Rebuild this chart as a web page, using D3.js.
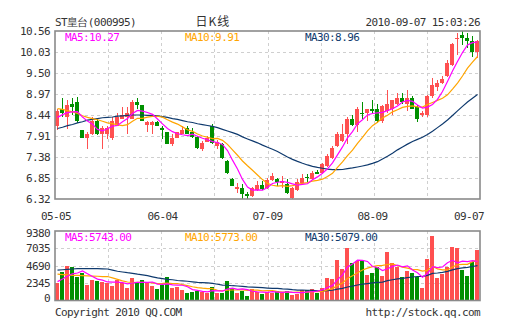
<!DOCTYPE html>
<html><head><meta charset="utf-8">
<script src="https://cdn.jsdelivr.net/npm/d3@7/dist/d3.min.js"></script>
<style>
body{margin:0;background:#fff}
svg text{font-family:"DejaVu Sans Mono",monospace;font-size:11px;letter-spacing:-0.6px;fill:#333}
</style></head>
<body><svg id="c" width="505" height="330"></svg>
<script>
// ---- data ----
const stockName = "ST皇台(000995)";
const chartTitle = "日K线";
const stamp = "2010-09-07 15:03:26";
const dateLabels = ["05-05","06-04","07-09","08-09","09-07"];
const dateIndex = [0,21,42,63,84];
const priceTicks = [6.32,6.85,7.38,7.91,8.44,8.97,9.50,10.03,10.56];
const volTicks = [0,2345,4690,7035,9380];
const priceLegend = ["MA5:10.27","MA10:9.91","MA30:8.96"];
const volLegend = ["MA5:5743.00","MA10:5773.00","MA30:5079.00"];

const open  = [8.17,8.58,8.38,8.71,8.76,8.05,7.87,7.97,8.28,7.95,7.95,7.87,8.17,8.35,8.40,8.35,8.76,8.68,8.20,8.20,8.27,8.10,8.00,7.72,7.87,7.97,8.10,8.02,7.89,7.59,7.77,8.17,7.67,7.72,7.29,6.83,6.58,6.60,6.45,6.40,6.55,6.68,6.60,6.80,6.83,6.73,6.70,6.35,6.55,6.73,6.88,6.83,7.01,6.98,7.16,7.36,7.67,7.79,7.97,8.33,8.20,8.50,8.48,8.58,8.60,8.28,8.53,8.60,8.73,8.88,8.73,8.86,8.63,8.43,8.43,8.91,9.14,9.24,9.42,9.70,10.36,10.46,10.38,10.31,10.03];
const high  = [8.60,8.88,8.81,8.88,8.89,8.06,8.02,8.38,8.33,8.15,8.17,8.38,8.48,8.63,8.63,8.83,8.86,8.70,8.29,8.29,8.29,8.17,8.02,7.97,8.02,8.15,8.15,8.12,7.92,7.79,7.92,8.22,7.82,7.74,7.31,6.86,6.73,6.70,6.50,6.62,6.78,6.77,6.84,6.98,6.86,6.90,6.83,6.62,6.83,6.95,6.95,7.02,7.06,7.24,7.46,7.66,8.00,8.22,8.38,8.45,8.65,8.76,8.60,8.81,8.73,8.68,9.06,8.83,8.99,8.99,9.06,8.93,8.68,8.55,8.95,9.37,9.32,9.42,9.82,10.26,10.51,10.56,10.51,10.43,10.33];
const low   = [8.05,8.40,8.08,8.45,8.25,7.86,7.59,7.94,7.94,7.59,7.84,7.80,8.15,8.33,7.97,8.33,8.60,8.28,8.00,7.97,8.15,7.84,7.70,7.67,7.85,7.95,7.95,7.87,7.59,7.52,7.75,7.72,7.59,7.34,6.96,6.64,6.47,6.30,6.32,6.38,6.53,6.55,6.58,6.78,6.65,6.60,6.45,6.33,6.53,6.70,6.75,6.80,6.94,6.96,7.14,7.34,7.64,7.77,7.72,8.17,8.02,8.33,8.30,8.48,8.25,8.25,8.50,8.43,8.70,8.71,8.53,8.58,8.27,8.38,8.40,8.88,9.04,9.22,9.40,9.68,9.95,10.20,10.13,9.90,9.87];
const close = [8.55,8.48,8.68,8.63,8.28,7.87,7.97,8.30,7.97,8.10,8.12,8.30,8.38,8.45,8.50,8.76,8.68,8.30,8.27,8.27,8.17,8.07,7.72,7.87,8.00,8.05,7.97,7.89,7.61,7.74,7.87,7.74,7.77,7.36,6.98,6.65,6.63,6.45,6.40,6.60,6.68,6.58,6.80,6.90,6.75,6.78,6.47,6.60,6.75,6.85,6.85,6.98,6.96,7.21,7.41,7.61,7.97,7.97,8.35,8.20,8.60,8.48,8.58,8.53,8.28,8.66,8.71,8.81,8.88,8.78,8.86,8.60,8.35,8.48,8.91,9.19,9.24,9.34,9.75,10.23,10.38,10.38,10.31,10.03,10.31];
const volume = [2330,3890,4650,4470,3220,3670,2100,2770,2680,2550,2410,1970,2770,2410,1660,3000,2330,2770,2410,1970,1570,2100,3130,1740,1880,1430,1070,1210,1300,1210,1070,1880,1070,1070,2640,1660,1070,1340,630,1530,1210,900,1210,1070,1300,990,1300,760,900,1430,1430,1530,1070,1660,3080,2860,5450,4200,7100,5090,5360,5360,3440,3670,4470,3310,6570,5010,4560,3220,4020,3750,3130,1660,5590,8670,3080,3580,4560,7240,7020,4110,3310,5230,6790];

// moving-average values for days whose window starts before the chart
const ma5Lead  = [8.38,8.45,8.50,8.52];
const ma10Lead = [8.60,8.58,8.55,8.52,8.48,8.42,8.38,8.35,8.32];
const ma30Lead = [8.10,8.13,8.17,8.20,8.24,8.27,8.31,8.33,8.35,8.37,8.38,8.39,8.41,8.42,8.43,8.44,8.44,8.44,8.43,8.43,8.42,8.40,8.38,8.35,8.33,8.30,8.27,8.25,8.22];
const vma5Lead  = [2550,2900,3300,3600];
const vma10Lead = [3550,3500,3450,3400,3380,3350,3320,3300,3270];
const vma30Lead = [4100,4150,4200,4250,4300,4300,4300,4300,4300,4280,4250,4100,3950,3850,3750,3670,3550,3450,3350,3200,3050,2950,2850,2800,2700,2650,2600,2520,2450];

// ---- layout ----
const FX0=55, FX1=480, PY0=31, PY1=199, VY0=231, VY1=300.5;
const RED="#ff5050", GREEN="#009000", C5="#ff00ff", C10="#ffa500", C30="#0f3a6e";
const n = close.length;
const svg = d3.select("#c");

const x = d3.scaleBand().domain(d3.range(n)).range([FX0,FX1]).padding(0);
const gx = d3.scaleLinear().domain([0,8]).range([FX0,FX1]);
const y = d3.scaleLinear().domain([priceTicks[0], priceTicks[priceTicks.length-1]]).range([PY1,PY0]);
const vy = d3.scaleLinear().domain([0, volTicks[volTicks.length-1]]).range([VY1,VY0]);

function movAvg(vals,k,lead){ return vals.map((v,i)=> i<lead.length ? lead[i] : d3.mean(vals.slice(i-k+1,i+1))); }

const defs = svg.append("defs");
defs.append("clipPath").attr("id","cp").append("rect").attr("x",FX0).attr("y",PY0).attr("width",FX1-FX0).attr("height",PY1-PY0);
defs.append("clipPath").attr("id","cv").append("rect").attr("x",FX0).attr("y",VY0).attr("width",FX1-FX0).attr("height",VY1-VY0);

// grids
function grid(top,bot,hy){
  const g = svg.append("g").attr("stroke","#cfcfcf").attr("stroke-dasharray","3,3").attr("shape-rendering","crispEdges");
  d3.range(1,8).forEach(k=>g.append("line").attr("x1",Math.round(gx(k))+0.5).attr("x2",Math.round(gx(k))+0.5).attr("y1",top).attr("y2",bot));
  hy.forEach(v=>g.append("line").attr("x1",FX0).attr("x2",FX1).attr("y1",Math.round(v)+0.5).attr("y2",Math.round(v)+0.5));
}
grid(PY0,PY1,priceTicks.slice(1,-1).map(y));
grid(VY0,VY1,volTicks.slice(1,-1).map(vy));

// candles
const cg = svg.append("g").attr("clip-path","url(#cp)").attr("shape-rendering","crispEdges");
d3.range(n).forEach(i=>{
  const up = close[i]>=open[i];
  const col = up?RED:GREEN;
  const cx = x(i)+2.5;
  cg.append("line").attr("x1",cx).attr("x2",cx).attr("y1",y(high[i])).attr("y2",y(low[i])).attr("stroke",col).attr("stroke-width",1);
  const t = y(Math.max(open[i],close[i])), b = y(Math.min(open[i],close[i]));
  cg.append("rect").attr("x",x(i)).attr("y",t).attr("width",x.bandwidth()-1).attr("height",Math.max(1,b-t)).attr("fill",col);
});

// price MAs
const lineP = d3.line().x((d,i)=>x(i)+2.5).y(d=>y(d));
[[movAvg(close,30,ma30Lead),C30],[movAvg(close,10,ma10Lead),C10],[movAvg(close,5,ma5Lead),C5]].forEach(([s,c])=>{
  svg.append("path").attr("clip-path","url(#cp)").attr("d",lineP(s)).attr("fill","none").attr("stroke",c).attr("stroke-width",1.2);
});

// volume bars
const vg = svg.append("g").attr("clip-path","url(#cv)").attr("shape-rendering","crispEdges");
d3.range(n).forEach(i=>{
  const col = close[i]>=open[i]?RED:GREEN;
  vg.append("rect").attr("x",x(i)).attr("y",vy(volume[i])).attr("width",x.bandwidth()-1).attr("height",VY1-vy(volume[i])).attr("fill",col);
});
const lineV = d3.line().x((d,i)=>x(i)+2.5).y(d=>vy(d));
[[movAvg(volume,30,vma30Lead),C30],[movAvg(volume,10,vma10Lead),C10],[movAvg(volume,5,vma5Lead),C5]].forEach(([s,c])=>{
  svg.append("path").attr("clip-path","url(#cv)").attr("d",lineV(s)).attr("fill","none").attr("stroke",c).attr("stroke-width",1.2);
});

// frames
[[PY0,PY1],[VY0,VY1]].forEach(([a,b])=>{
  svg.append("rect").attr("x",FX0).attr("y",a).attr("width",FX1-FX0).attr("height",b-a).attr("fill","none").attr("stroke","#8a8a8a").attr("stroke-width",1.6);
});

// axes
const ay = svg.append("g").attr("transform",`translate(${FX0},0)`).call(d3.axisLeft(y).tickValues(priceTicks).tickSize(0).tickPadding(5).tickFormat(d3.format(".2f")));
ay.select(".domain").remove();
ay.selectAll("text").attr("font-family",null).attr("font-size",null).style("fill","#333");
const av = svg.append("g").attr("transform",`translate(${FX0},0)`).call(d3.axisLeft(vy).tickValues(volTicks).tickSize(0).tickPadding(5).tickFormat(d3.format("d")));
av.select(".domain").remove();
av.selectAll("text").attr("font-family",null).attr("font-size",null).style("fill","#333");
av.selectAll(".tick").filter(d=>d===volTicks[0]).select("text").attr("y",-3);
av.selectAll(".tick").filter(d=>d===volTicks[volTicks.length-1]).select("text").attr("y",2);

// date labels
dateLabels.forEach((t,k)=>{
  const last = k===dateLabels.length-1, first = k===0;
  const xx = first ? FX0+1 : last ? FX1+4 : x(dateIndex[k])+2.5;
  svg.append("text").attr("x",xx).attr("y",220).attr("text-anchor",last?"end":"middle").text(t);
});

// header
svg.append("text").attr("x",FX0).attr("y",26).text(stockName);
svg.append("text").attr("x",213).attr("y",26).attr("text-anchor","middle").style("font-family","'Noto Sans CJK SC'").style("font-size","12px").style("letter-spacing","1px").text(chartTitle);
svg.append("text").attr("x",FX1).attr("y",26).attr("text-anchor","end").text(stamp);

// legends
const lx = [65,185,305], lc=[C5,C10,C30];
priceLegend.forEach((t,k)=>svg.append("text").attr("x",lx[k]).attr("y",40.5).style("fill",lc[k]).text(t));
volLegend.forEach((t,k)=>svg.append("text").attr("x",lx[k]).attr("y",240.5).style("fill",lc[k]).text(t));

// footer
svg.append("text").attr("x",FX0).attr("y",316).text("Copyright 2010 QQ.COM");
svg.append("text").attr("x",FX1).attr("y",316).attr("text-anchor","end").text("http://stock.qq.com");
</script></body></html>
